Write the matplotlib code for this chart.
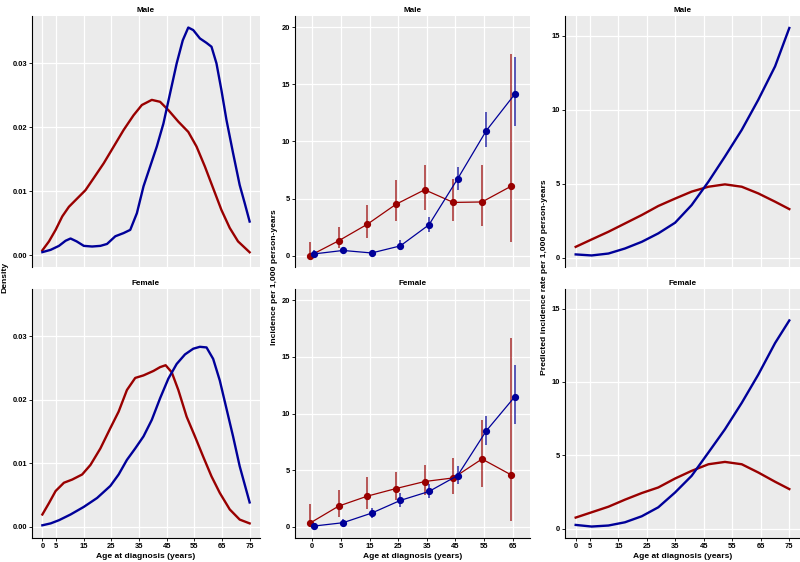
import numpy as np
import matplotlib.pyplot as plt

plt.rcParams['font.family'] = ['Liberation Sans', 'DejaVu Sans']
plt.rcParams['font.weight'] = 'bold'

RED = '#990000'
BLUE = '#000099'

# ---- Column 1: density of age at diagnosis ----
dens_m_blue_age = [0, 3, 6, 8.4, 10.2, 12.4, 15, 18, 21, 23.4, 26.4, 29.4, 31.8, 34.2, 36.6, 39, 41.4, 43.8,
                   46.2, 48.6, 50.8, 52.8, 54.6, 57, 59.4, 61.2, 63, 64.8, 66.6, 69, 71.4, 73.2, 75]
dens_m_blue = [0.00052, 0.00088, 0.0015, 0.0023, 0.00265, 0.0022, 0.0015, 0.0014, 0.0015, 0.0018, 0.003,
               0.0035, 0.004, 0.0066, 0.0108, 0.0139, 0.017, 0.0206, 0.0253, 0.030, 0.0336, 0.0356, 0.0352,
               0.0339, 0.0332, 0.0326, 0.030, 0.0258, 0.0212, 0.016, 0.011, 0.0082, 0.0053]
dens_m_red_age = [0, 2.4, 4.8, 7.2, 9.6, 12.6, 15.6, 18.6, 22.2, 25.8, 29.4, 33, 36, 39.6, 42.6, 45.6, 49.2,
                  52.8, 55.8, 58.8, 61.8, 64.8, 67.8, 70.8, 75]
dens_m_red = [0.0008, 0.0022, 0.004, 0.0061, 0.0076, 0.0089, 0.0102, 0.0121, 0.0144, 0.017, 0.0196, 0.0219,
              0.0235, 0.0243, 0.024, 0.0227, 0.0209, 0.0193, 0.017, 0.0139, 0.0105, 0.0071, 0.0043, 0.0022,
              0.0005]

dens_f_blue_age = [0, 3, 6, 10.2, 15, 19.8, 24.6, 27.6, 30.6, 33.6, 36.6, 39.6, 42.6, 45.6, 48.6, 51.6, 54.6,
                   57, 59.4, 61.8, 64.2, 66.6, 69, 71.4, 75]
dens_f_blue = [0.0002, 0.0005, 0.001, 0.0019, 0.0031, 0.0045, 0.0064, 0.0082, 0.0105, 0.0123, 0.0142, 0.0168,
               0.0202, 0.0233, 0.0256, 0.0271, 0.028, 0.0283, 0.0282, 0.0264, 0.023, 0.0186, 0.0142, 0.0095,
               0.0038]
dens_f_red_age = [0, 2.4, 4.8, 7.8, 10.8, 14.4, 17.4, 21, 24.6, 27.6, 30.6, 33.6, 36.6, 40.2, 42.6, 44.6, 46.8,
                  49.2, 52.2, 55.2, 58.2, 61.2, 64.2, 67.8, 71.4, 75]
dens_f_red = [0.0019, 0.0037, 0.0056, 0.0069, 0.0074, 0.0082, 0.0097, 0.0123, 0.0155, 0.0181, 0.0215, 0.0234,
              0.0238, 0.0245, 0.0251, 0.0254, 0.0243, 0.0215, 0.0173, 0.0142, 0.011, 0.0079, 0.0053, 0.0027,
              0.0011, 0.0005]

# ---- Column 2: observed incidence per 1,000 person-years ----
age_groups = ['0', '5', '15', '25', '35', '45', '55', '65']
inc_m_red = [0, 1.3, 2.75, 4.5, 5.77, 4.66, 4.7, 6.06]
inc_m_red_lo = [0, 0.65, 1.58, 3.0, 4.0, 3.0, 2.55, 1.23]
inc_m_red_hi = [1.17, 2.5, 4.45, 6.6, 7.96, 6.7, 7.9, 17.7]
inc_m_blue = [0.15, 0.45, 0.23, 0.85, 2.7, 6.73, 10.95, 14.17]
inc_m_blue_lo = [0, 0.25, 0.15, 0.5, 2.1, 5.77, 9.49, 11.4]
inc_m_blue_hi = [0.45, 0.65, 0.32, 1.38, 3.37, 7.8, 12.56, 17.4]

inc_f_red = [0.32, 1.82, 2.7, 3.37, 3.99, 4.31, 5.98, 4.6]
inc_f_red_lo = [0, 0.85, 1.58, 2.32, 2.84, 2.93, 3.52, 0.5]
inc_f_red_hi = [2.02, 3.28, 4.4, 4.84, 5.48, 6.07, 9.44, 16.63]
inc_f_blue = [0.06, 0.35, 1.2, 2.32, 3.11, 4.52, 8.47, 11.5]
inc_f_blue_lo = [0, 0.15, 0.76, 1.73, 2.49, 3.81, 7.18, 9.09]
inc_f_blue_hi = [0.15, 0.65, 1.67, 2.99, 3.78, 5.34, 9.82, 14.28]

# ---- Column 3: predicted incidence rate ----
pred_age = [0, 5.6, 11.5, 17.3, 23.2, 29, 34.9, 40.7, 46.6, 52.4, 58.3, 64.1, 70, 75]
pred_m_blue = [0.23, 0.16, 0.29, 0.63, 1.08, 1.65, 2.37, 3.56, 5.14, 6.84, 8.64, 10.67, 12.93, 15.52]
pred_m_red = [0.74, 1.24, 1.76, 2.32, 2.89, 3.5, 4.0, 4.47, 4.8, 4.96, 4.8, 4.35, 3.79, 3.29]
pred_f_blue = [0.27, 0.16, 0.23, 0.45, 0.86, 1.47, 2.48, 3.61, 5.2, 6.78, 8.58, 10.5, 12.65, 14.19]
pred_f_red = [0.77, 1.13, 1.51, 1.99, 2.44, 2.82, 3.43, 3.95, 4.4, 4.56, 4.4, 3.84, 3.21, 2.71]

age_ticks = [0, 5, 15, 25, 35, 45, 55, 65, 75]

fig = plt.figure(figsize=(8, 5.62), dpi=100)


def px_axes(x0, y0, x1, y1):
    return fig.add_axes([x0 / 800, 1 - y1 / 562, (x1 - x0) / 800, (y1 - y0) / 562])


def style(ax, title, bottom_row):
    ax.set_facecolor('#EBEBEB')
    ax.grid(True, color='white', lw=0.9)
    ax.set_axisbelow(True)
    ax.spines['top'].set_visible(False)
    ax.spines['right'].set_visible(False)
    ax.spines['left'].set_linewidth(0.8)
    ax.spines['bottom'].set_linewidth(0.8)
    ax.tick_params(labelsize=5.4, length=2, width=0.6, pad=1.5, colors='black')
    if not bottom_row:
        ax.spines['bottom'].set_visible(False)
        ax.tick_params(axis='x', length=0, labelbottom=False)
    ax.set_title(title, fontsize=5.9, fontweight='bold', pad=3)


rows = [(16, 267, 'Male', False), (289, 538, 'Female', True)]
dens = [(dens_m_blue_age, dens_m_blue, dens_m_red_age, dens_m_red),
        (dens_f_blue_age, dens_f_blue, dens_f_red_age, dens_f_red)]
inc = [(inc_m_red, inc_m_red_lo, inc_m_red_hi, inc_m_blue, inc_m_blue_lo, inc_m_blue_hi),
       (inc_f_red, inc_f_red_lo, inc_f_red_hi, inc_f_blue, inc_f_blue_lo, inc_f_blue_hi)]
pred = [(pred_m_blue, pred_m_red), (pred_f_blue, pred_f_red)]

for i, (y0, y1, title, bottom) in enumerate(rows):
    # density
    ax = px_axes(32, y0, 260, y1)
    ba, bv, ra, rv = dens[i]
    ax.plot(ra, rv, color=RED, lw=1.7)
    ax.plot(ba, bv, color=BLUE, lw=1.7)
    ax.set_xlim(-3.75, 78.75)
    ax.set_ylim(-0.0018, 0.0374)
    ax.set_xticks(age_ticks)
    ax.set_yticks([0, 0.01, 0.02, 0.03])
    ax.set_yticklabels(['0.00', '0.01', '0.02', '0.03'])
    style(ax, title, bottom)

    # observed incidence
    ax = px_axes(295, y0, 530, y1)
    r, rlo, rhi, b, blo, bhi = inc[i]
    x = np.arange(1, len(age_groups) + 1)
    xr = x - 0.075
    xb = x + 0.075
    ax.vlines(xr, rlo, rhi, color=RED, lw=1.1, alpha=0.8)
    ax.plot(xr, r, color=RED, lw=0.9, marker='o', ms=4.2)
    ax.vlines(xb, blo, bhi, color=BLUE, lw=1.1, alpha=0.8)
    ax.plot(xb, b, color=BLUE, lw=0.9, marker='o', ms=4.2)
    ax.set_xlim(0.4, 8.6)
    ax.set_ylim(-1, 21)
    ax.set_xticks(x)
    ax.set_xticklabels(age_groups)
    ax.set_yticks([0, 5, 10, 15, 20])
    style(ax, title, bottom)

    # predicted incidence
    ax = px_axes(565, y0, 800, y1)
    pb, pr = pred[i]
    ax.plot(pred_age, pr, color=RED, lw=1.7)
    ax.plot(pred_age, pb, color=BLUE, lw=1.7)
    ax.set_xlim(-3.75, 78.75)
    ax.set_ylim(-0.62, 16.33)
    ax.set_xticks(age_ticks)
    ax.set_yticks([0, 5, 10, 15])
    style(ax, title, bottom)

lab = dict(fontsize=6.1, fontweight='bold', ha='center', va='center')
fig.text(4.5 / 800, 1 - 277 / 562, 'Density', rotation=90, **lab)
fig.text(275 / 800, 1 - 277 / 562, 'Incidence per 1,000 person-years', rotation=90, **lab)
fig.text(545 / 800, 1 - 277 / 562, 'Predicted incidence rate per 1,000 person-years', rotation=90, **lab)
for cx in [146, 412.5, 682.5]:
    fig.text(cx / 800, 1 - 556 / 562, 'Age at diagnosis (years)', **lab)

fig.savefig('out.png', dpi=100)
